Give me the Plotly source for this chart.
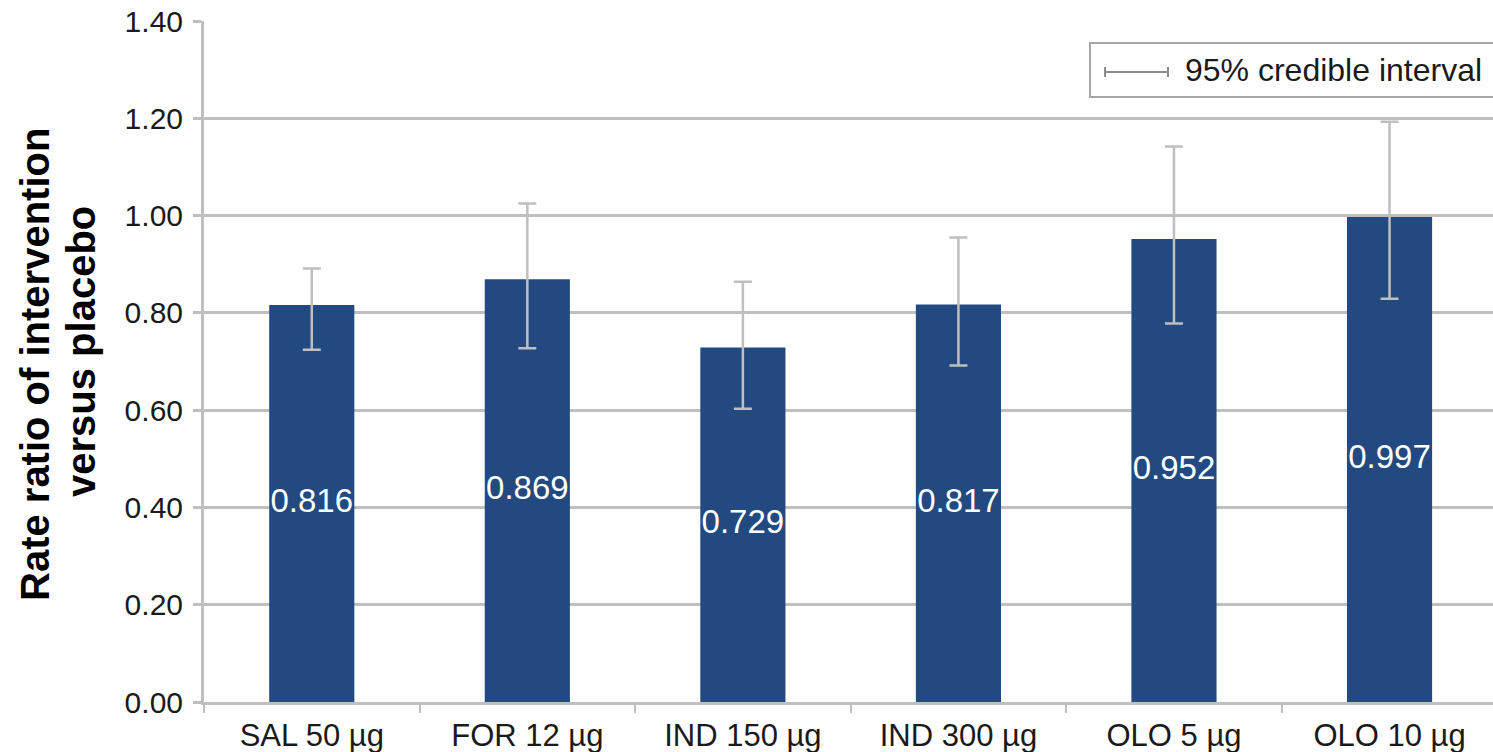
import plotly.graph_objects as go

# Rate ratios versus placebo with 95% credible intervals
treatments = ["SAL 50 µg", "FOR 12 µg", "IND 150 µg", "IND 300 µg", "OLO 5 µg", "OLO 10 µg"]
rate_ratio = [0.816, 0.869, 0.729, 0.817, 0.952, 0.997]
ci_lower = [0.724, 0.727, 0.603, 0.692, 0.778, 0.829]
ci_upper = [0.891, 1.025, 0.864, 0.955, 1.142, 1.193]

y_ticks = [0.0, 0.2, 0.4, 0.6, 0.8, 1.0, 1.2, 1.4]

BAR = "#224A80"
GREY = "#BFBFBF"
FONT = "Liberation Sans, Arial, sans-serif"
INK = "#1a1a1a"

err_plus = [u - v for u, v in zip(ci_upper, rate_ratio)]
err_minus = [v - l for v, l in zip(rate_ratio, ci_lower)]

fig = go.Figure()
fig.add_trace(go.Bar(
    x=treatments,
    y=rate_ratio,
    width=0.395,
    marker=dict(color=BAR, line=dict(width=0)),
    error_y=dict(type="data", symmetric=False, array=err_plus, arrayminus=err_minus,
                 color=GREY, thickness=2.5, width=9),
    showlegend=False,
    hoverinfo="x+y",
))

# value labels centred inside each bar
fig.add_trace(go.Scatter(
    x=treatments,
    y=[v / 2 for v in rate_ratio],
    mode="text",
    text=[f"{v:.3f}" for v in rate_ratio],
    textposition="middle center",
    textfont=dict(family=FONT, size=33, color="white"),
    showlegend=False,
    hoverinfo="skip",
))

# figure geometry in pixels, used to place the legend box and title in paper units
W, H = 1493, 752
L, T, B = 204, 21, 50
pw, ph = W - L, H - T - B


def px(x):
    return (x - L) / pw


def py(y):
    return (H - B - y) / ph


shapes = [
    # legend frame
    dict(type="rect", xref="paper", yref="paper", x0=px(1090), x1=px(1520), y0=py(97), y1=py(43),
         line=dict(color="#A6A6A6", width=2), fillcolor="white", layer="above"),
    # legend glyph: horizontal interval with end caps
    dict(type="line", xref="paper", yref="paper", x0=px(1105), x1=px(1168), y0=py(72), y1=py(72),
         line=dict(color="#8C8C8C", width=2), layer="above"),
    dict(type="line", xref="paper", yref="paper", x0=px(1105), x1=px(1105), y0=py(67), y1=py(77),
         line=dict(color="#8C8C8C", width=2), layer="above"),
    dict(type="line", xref="paper", yref="paper", x0=px(1168), x1=px(1168), y0=py(67), y1=py(77),
         line=dict(color="#8C8C8C", width=2), layer="above"),
]

annotations = [
    dict(xref="paper", yref="paper", x=px(1183), y=py(70), xanchor="left", yanchor="middle",
         text="95% credible interval", showarrow=False,
         font=dict(family=FONT, size=32, color=INK)),
    # two-line y-axis title
    dict(xref="paper", yref="paper", x=px(35), y=py(365), xanchor="center", yanchor="middle",
         text="<b>Rate ratio of intervention</b>", textangle=-90, showarrow=False,
         font=dict(family=FONT, size=40, color="black")),
    dict(xref="paper", yref="paper", x=px(81), y=py(352), xanchor="center", yanchor="middle",
         text="<b>versus placebo</b>", textangle=-90, showarrow=False,
         font=dict(family=FONT, size=40, color="black")),
]

fig.update_layout(
    width=W, height=H,
    margin=dict(l=L, r=0, t=T, b=B),
    paper_bgcolor="white",
    plot_bgcolor="white",
    font=dict(family=FONT, color=INK),
    shapes=shapes,
    annotations=annotations,
    xaxis=dict(
        type="category",
        range=[-0.5, 5.48],
        showgrid=False,
        showline=True, linecolor=GREY, linewidth=3,
        ticks="outside", tickson="boundaries", ticklen=8, tickwidth=2, tickcolor=GREY,
        ticklabelstandoff=4,
        tickfont=dict(family=FONT, size=31, color=INK),
    ),
    yaxis=dict(
        range=[0, 1.4],
        tickvals=y_ticks,
        ticktext=[f"{v:.2f}" for v in y_ticks],
        showgrid=True, gridcolor=GREY, gridwidth=3,
        zeroline=False,
        showline=True, linecolor=GREY, linewidth=3,
        ticks="outside", ticklen=8, tickwidth=3, tickcolor=GREY,
        ticklabelstandoff=4,
        tickfont=dict(family=FONT, size=30, color=INK),
    ),
)

fig.write_html("out.html")
